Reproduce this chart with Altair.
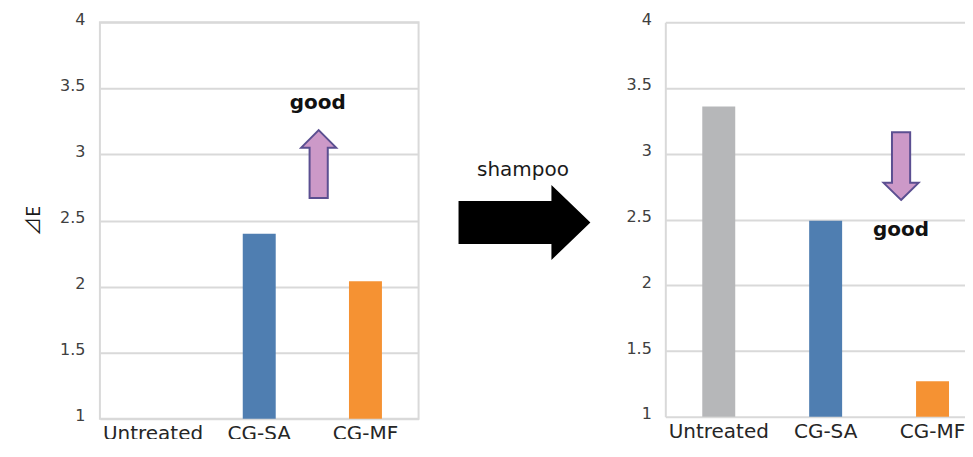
import altair as alt
import pandas as pd

# ---- data ----
categories = ["Untreated", "CG-SA", "CG-MF"]
before_values = [1.0, 2.40, 2.04]
after_values = [3.36, 2.49, 1.27]
bar_colors = ["#b6b7b9", "#4f7eb1", "#f59233"]
y_ticks = [1, 1.5, 2, 2.5, 3, 3.5, 4]
y_title = "⊿E"
note_text = ["good"]
middle_text = ["shampoo"]

FONT = "DejaVu Sans"
GRID = "#d9d9d9"
ARROW_FILL = "#cc99c8"
ARROW_STROKE = "#5b4f91"

UP_ARROW = "M0,-0.97 L0.5,-0.47 L0.26,-0.47 L0.26,0.97 L-0.26,0.97 L-0.26,-0.47 L-0.5,-0.47 Z"
DOWN_ARROW = "M0,0.97 L0.5,0.48 L0.26,0.48 L0.26,-0.97 L-0.26,-0.97 L-0.26,0.48 L-0.5,0.48 Z"
BIG_ARROW = "M-1,-0.326 L0.409,-0.326 L0.409,-0.568 L1,0 L0.409,0.568 L0.409,0.326 L-1,0.326 Z"

df_before = pd.DataFrame({"cat": categories, "value": before_values, "color": bar_colors})
df_after = pd.DataFrame({"cat": categories, "value": after_values, "color": bar_colors})
df_note = pd.DataFrame({"t": note_text})
df_mid = pd.DataFrame({"t": middle_text})


def bar_layer(df, width, height, show_title, y_domain_line, label_pad):
    y_axis_kwargs = dict(
        values=y_ticks, format="~g", grid=True, gridColor=GRID, gridWidth=2,
        ticks=False, labelFontSize=16, labelColor="#404040", labelFont=FONT,
        labelPadding=label_pad, labelOffset=-3,
        domain=y_domain_line, domainColor=GRID, domainWidth=2,
    )
    if show_title:
        y_axis_kwargs.update(title=y_title, titleFontSize=19, titleFont="Noto Sans CJK JP",
                             titleFontWeight="normal", titleColor="#1a1a1a",
                             titleX=-66, titleY=height / 2, titleAngle=-90,
                             titleBaseline="middle", titleAlign="center")
    else:
        y_axis_kwargs.update(title=None)
    return alt.Chart(df).mark_bar(size=33).encode(
        x=alt.X("cat:N", sort=categories,
                scale=alt.Scale(domain=categories, paddingInner=0, paddingOuter=0),
                axis=alt.Axis(title=None, labelAngle=0, labelFontSize=20,
                              labelColor="#262626", labelFont=FONT,
                              labelPadding=5, ticks=False, tickSize=0,
                              domain=False)),
        y=alt.Y("value:Q", scale=alt.Scale(domain=[1, 4], zero=False, nice=False),
                axis=alt.Axis(**y_axis_kwargs)),
        y2=alt.datum(1),
        color=alt.Color("color:N", scale=None, legend=None),
    ).properties(width=width, height=height)


left_bars = bar_layer(df_before, 319, 397, True, False, 15)

left_good = alt.Chart(df_note).mark_text(
    font=FONT, fontSize=20, fontWeight="bold", color="#111111", baseline="middle"
).encode(x=alt.value(218), y=alt.value(81), text="t:N")

left_arrow = alt.Chart(df_note).mark_point(
    shape=UP_ARROW, size=4900, filled=True, fill=ARROW_FILL, stroke=ARROW_STROKE,
    strokeWidth=2, opacity=1
).encode(x=alt.value(219), y=alt.value(142))

big_arrow = alt.Chart(df_mid).mark_point(
    shape=BIG_ARROW, size=132 * 132, filled=True, fill="#000000", opacity=1
).encode(x=alt.value(425), y=alt.value(200.5))

mid_text = alt.Chart(df_mid).mark_text(
    font=FONT, fontSize=20, color="#1a1a1a", baseline="middle"
).encode(x=alt.value(423.5), y=alt.value(148), text="t:N")

left = alt.layer(left_bars, left_good, left_arrow, big_arrow, mid_text).properties(
    view=alt.ViewBackground(stroke=GRID, strokeWidth=2, strokeOpacity=1)
)

right_bars = bar_layer(df_after, 321, 395, False, True, 14)

right_arrow = alt.Chart(df_note).mark_point(
    shape=DOWN_ARROW, size=4900, filled=True, fill=ARROW_FILL, stroke=ARROW_STROKE,
    strokeWidth=2, opacity=1
).encode(x=alt.value(236), y=alt.value(144))

right_good = alt.Chart(df_note).mark_text(
    font=FONT, fontSize=20, fontWeight="bold", color="#111111", baseline="middle"
).encode(x=alt.value(236), y=alt.value(208), text="t:N")

right = alt.layer(right_bars, right_arrow, right_good)

chart = alt.hconcat(left, right, spacing=247, bounds="flush").configure(
    padding={"left": 16, "top": 2, "right": -21, "bottom": -6},
    font=FONT,
).configure_view(strokeOpacity=0)

chart.save("out.html", embed_options={"renderer": "svg", "actions": False})
